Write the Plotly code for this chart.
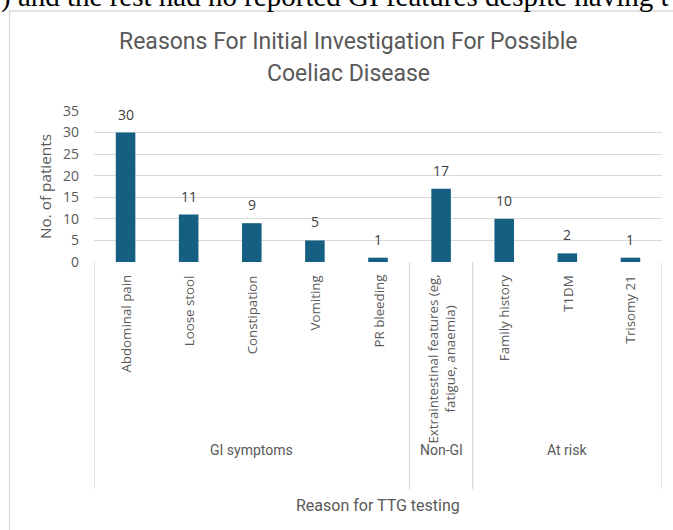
import plotly.graph_objects as go

# --- data -------------------------------------------------------------
categories = ["Abdominal pain", "Loose stool", "Constipation", "Vomiting",
              "PR bleeding", "Extraintestinal features (eg,<br>fatigue, anaemia)",
              "Family history", "T1DM", "Trisomy 21"]
patients = [30, 11, 9, 5, 1, 17, 10, 2, 1]
groups = ["GI symptoms", "Non-GI", "At risk"]
group_spans = [(0, 4), (5, 5), (6, 8)]          # first/last category index per group
y_ticks = [0, 5, 10, 15, 20, 25, 30, 35]

# --- geometry (pixels) ------------------------------------------------
W, H = 673, 530
L, R, T, B = 94, 662, 111, 262


def fx(px):
    return (px - L) / (R - L)


def fy(py):
    return (B - py) / (B - T)


GREY = "#595959"
LINE = "#D9D9D9"
BAR = "#156082"
SANS = "Open Sans, Liberation Sans, sans-serif"
NARROW = "Roboto, Liberation Sans, sans-serif"

fig = go.Figure(go.Bar(
    x=categories, y=patients, marker=dict(color=BAR, line=dict(width=0)),
    hoverinfo="x+y",
))

ann = []
# value labels above bars
for c, v in zip(categories, patients):
    ann.append(dict(x=c, y=v, xref="x", yref="y", text=str(v), showarrow=False,
                    yanchor="bottom", yshift=7,
                    font=dict(family=SANS, size=14, color="#404040")))
# rotated category labels
for c in categories:
    ann.append(dict(x=c, y=fy(273), xref="x", yref="paper", text=c, showarrow=False,
                    textangle=-90, yanchor="top", xanchor="center", align="center",
                    font=dict(family=SANS, size=13.3, color=GREY)))
# group labels
for g, (a, b) in zip(groups, group_spans):
    ann.append(dict(x=(a + b) / 2, y=fy(450), xref="x", yref="paper", text=g,
                    showarrow=False, yanchor="middle",
                    font=dict(family=NARROW, size=14, color=GREY)))
# axis titles
ann.append(dict(x=0.5, y=fy(505), xref="paper", yref="paper", text="Reason for TTG testing",
                showarrow=False, yanchor="middle",
                font=dict(family=NARROW, size=16, color=GREY)))
ann.append(dict(x=fx(45), y=fy(187), xref="paper", yref="paper", text="No. of patients",
                showarrow=False, textangle=-90, xanchor="center", yanchor="middle",
                font=dict(family=SANS, size=15.3, color=GREY)))
# chart title (two lines)
ann.append(dict(x=fx(348), y=fy(41), xref="paper", yref="paper",
                text="Reasons For Initial Investigation For Possible", showarrow=False,
                yanchor="middle", font=dict(family=NARROW, size=23, color=GREY)))
ann.append(dict(x=fx(348), y=fy(73), xref="paper", yref="paper",
                text="Coeliac Disease", showarrow=False,
                yanchor="middle", font=dict(family=NARROW, size=23, color=GREY)))
# running document text above the chart
ann.append(dict(x=fx(-1), y=fy(15), xref="paper", yref="paper",
                text=") and the rest had no reported GI features despite having t",
                showarrow=False, xanchor="left", yanchor="bottom",
                font=dict(family="Liberation Serif, serif", size=29, color="black")))

shapes = []
# chart frame
shapes.append(dict(type="rect", xref="paper", yref="paper",
                   x0=fx(9.5), y0=fy(11), x1=fx(720), y1=fy(580),
                   line=dict(color=LINE, width=1.3), layer="below"))
# category-axis dividers
for xd in [-0.5, 4.5, 5.5, 8.5]:
    shapes.append(dict(type="line", xref="x", yref="paper", x0=xd, x1=xd,
                       y0=fy(262), y1=fy(489), line=dict(color=LINE, width=1.3)))

fig.update_layout(
    width=W, height=H,
    margin=dict(l=L, r=W - R, t=T, b=H - B, pad=0),
    paper_bgcolor="white", plot_bgcolor="white",
    bargap=0.69, showlegend=False,
    annotations=ann, shapes=shapes,
    xaxis=dict(showticklabels=False, showgrid=False, zeroline=False, showline=False,
               range=[-0.5, 8.5], fixedrange=True),
    yaxis=dict(range=[0, 35], tickvals=y_ticks, showgrid=True, gridcolor=LINE, gridwidth=1,
               zeroline=False, showline=False, ticks="", ticklabelstandoff=14,
               tickfont=dict(family=SANS, size=14, color=GREY), fixedrange=True),
)

fig.write_html("out.html")
